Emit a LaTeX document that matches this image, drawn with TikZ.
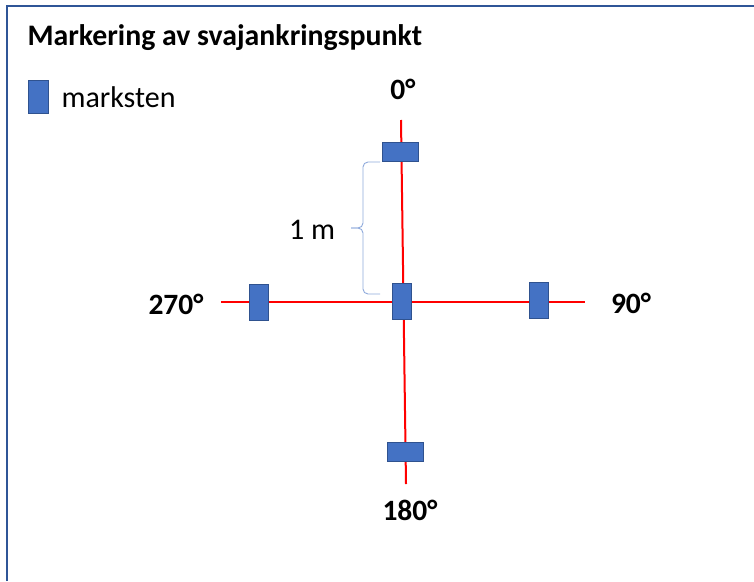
\documentclass[tikz,border=0pt]{standalone}
\usepackage{fontspec}
\setmainfont{Carlito}

\definecolor{stenblue}{HTML}{4472C4}
\definecolor{stenedge}{HTML}{2F528F}
\definecolor{framecol}{HTML}{2F5597}
\definecolor{bracecol}{HTML}{8FAADC}

\tikzset{
  sten/.style={draw=stenedge, line width=0.8pt, fill=stenblue, inner sep=0pt},
  stenh/.style={sten, minimum width=36pt, minimum height=19pt},
  stenv/.style={sten, minimum width=19pt, minimum height=36pt},
  axis/.style={red, line width=2pt},
  deg/.style={font=\fontsize{29.5}{32}\selectfont\bfseries},
  bracket/.style={bracecol, line width=0.9pt, rounded corners=5pt}
}

\begin{document}
\begin{tikzpicture}[x=1pt,y=-1pt]

  % Page and frame
  \useasboundingbox (0,0) rectangle (754,581);
  \fill[white] (0,0) rectangle (754,581);
  \draw[framecol, line width=2pt] (7,581) -- (7,6) -- (754,6);

  % Title and legend
  \node[anchor=west, font=\fontsize{29.8}{32}\selectfont\bfseries] (title) at (24,38) {Markering av svajankringspunkt};
  \node[sten, minimum width=20pt, minimum height=33pt] (legsten) at (38,97) {};
  \node[anchor=west, font=\fontsize{30}{32}\selectfont] (legtext) at (58,97) {marksten};

  % End points of the lines
  \coordinate (n) at (401,120);
  \coordinate (s) at (406,484);
  \coordinate (w) at (221,302);
  \coordinate (e) at (585,302);

  % Red lines
  \draw[axis] (n) -- (s);
  \draw[axis] (w) -- (e);

  % Marker stones
  \node[stenh] (top) at (400,151.5) {};
  \node[stenv] (mid) at (402,301.5) {};
  \node[stenv] (left) at (259,302) {};
  \node[stenv] (right) at (539,300.5) {};
  \node[stenh] (bottom) at (405,451.5) {};

  % Degree labels
  \node[deg] (d0) at (403,89) {0°};
  \node[deg] (d90) at (631,303) {90°};
  \node[deg] (d180) at (410,510) {180°};
  \node[deg] (d270) at (176,304) {270°};

  % Distance bracket
  \coordinate (bt) at (380,162);
  \coordinate (bb) at (380,294);
  \coordinate (tip) at (351,228);
  \draw[bracket] (bt) -- (363,162) -- (363,228) -- (tip);
  \draw[bracket] (bb) -- (363,294) -- (363,228) -- (tip);
  \node[font=\fontsize{30}{32}\selectfont] (dist) at (312,230) {1 m};

\end{tikzpicture}
\end{document}
